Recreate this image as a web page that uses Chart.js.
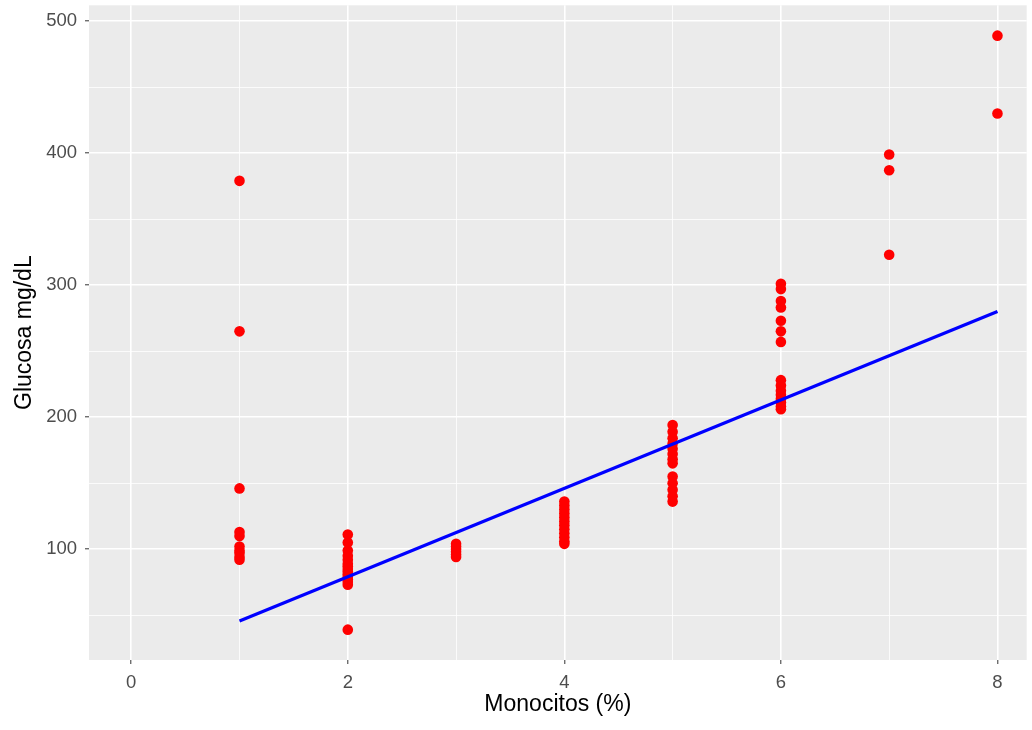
<!DOCTYPE html>
<html>
<head>
<meta charset="utf-8">
<script src="https://cdn.jsdelivr.net/npm/chart.js@4"></script>
<style>
  html, body { margin: 0; padding: 0; background: #ffffff; }
  #wrap { width: 1032px; height: 730px; }
</style>
</head>
<body>
<div id="wrap"><canvas id="scatterChart"></canvas></div>
<script>
// Monocitos (%) per group and the glucose readings of each group
const monocitos = [1, 2, 3, 4, 5, 6, 7, 8];
const glucosa = [
    [379, 265, 146, 113, 110, 102, 99, 97, 94, 92],
    [111, 105, 99, 95, 92, 89, 87, 85, 83, 81, 79, 77, 75, 73, 39],
    [104, 102, 100, 98, 96, 94],
    [136, 133, 130, 127, 124, 121, 118, 115, 112, 109, 106, 104],
    [194, 189, 184, 180, 176, 172, 168, 165, 155, 150, 145, 140, 136],
    [301, 297, 288, 283, 273, 265, 257, 228, 224, 220, 217, 214, 211, 208, 206],
    [399, 387, 323],
    [489, 430]
];

// linear fit (lm) endpoints
const fitX = [1, 8];
const fitY = [45.5, 280];

// axis ticks
const xTicks = [0, 2, 4, 6, 8];
const xMinor = [1, 3, 5, 7];
const yTicks = [100, 200, 300, 400, 500];
const yMinor = [50, 150, 250, 350, 450];

const colors = {
    panel: '#EBEBEB',
    grid: '#FFFFFF',
    point: '#FF0000',
    fit: '#0000FF',
    tickText: '#4D4D4D',
    tickMark: '#333333',
    title: '#000000'
};

const fontFamily = "'Liberation Sans', Arial, sans-serif";

const points = [];
monocitos.forEach((m, i) => {
    glucosa[i].forEach(g => points.push({ x: m, y: g }));
});
const fitLine = fitX.map((x, i) => ({ x: x, y: fitY[i] }));

// grey panel behind the grid
const panelBackground = {
    id: 'panelBackground',
    beforeDraw(chart) {
        const { ctx, chartArea: a } = chart;
        ctx.save();
        ctx.fillStyle = colors.panel;
        ctx.fillRect(a.left, a.top, a.right - a.left, a.bottom - a.top);
        ctx.restore();
    }
};

function isMajor(list, v) {
    return list.indexOf(v) !== -1;
}

const ctx = document.getElementById('scatterChart').getContext('2d');
new Chart(ctx, {
    type: 'scatter',
    data: {
        datasets: [{
            label: 'fit',
            data: fitLine,
            showLine: true,
            borderColor: colors.fit,
            borderWidth: 3.2,
            pointRadius: 0,
            order: 1
        }, {
            label: 'Glucosa',
            data: points,
            backgroundColor: colors.point,
            borderWidth: 0,
            pointRadius: 5.3,
            order: 2
        }]
    },
    options: {
        responsive: true,
        maintainAspectRatio: false,
        animation: false,
        layout: { padding: { top: 5, right: 0, left: 0, bottom: 0 } },
        plugins: {
            legend: { display: false },
            tooltip: { enabled: false }
        },
        scales: {
            x: {
                type: 'linear',
                min: -0.39,
                max: 8.27,
                afterBuildTicks: s => { s.ticks = xTicks.concat(xMinor).sort((a, b) => a - b).map(v => ({ value: v })); },
                afterFit: s => { s.height = 70; s.paddingLeft = 0; s.paddingRight = 0; },
                border: { display: false },
                grid: {
                    color: colors.grid,
                    lineWidth: c => isMajor(xTicks, c.tick.value) ? 1.6 : 0.8,
                    tickColor: c => isMajor(xTicks, c.tick.value) ? colors.tickMark : 'rgba(0,0,0,0)',
                    tickLength: 4,
                    tickWidth: 1
                },
                ticks: {
                    padding: 8,
                    color: colors.tickText,
                    font: { family: fontFamily, size: 18.5 },
                    maxRotation: 0,
                    autoSkip: false,
                    callback: v => isMajor(xTicks, v) ? String(v) : ''
                },
                title: {
                    display: true,
                    text: 'Monocitos (%)',
                    color: colors.title,
                    font: { family: fontFamily, size: 23 },
                    padding: { top: 0, bottom: 12 }
                }
            },
            y: {
                type: 'linear',
                min: 16,
                max: 512,
                afterBuildTicks: s => { s.ticks = yMinor.concat(yTicks).sort((a, b) => a - b).map(v => ({ value: v })); },
                afterFit: s => { s.width = 89; s.paddingTop = 0; s.paddingBottom = 0; },
                border: { display: false },
                grid: {
                    color: colors.grid,
                    lineWidth: c => isMajor(yTicks, c.tick.value) ? 1.6 : 0.8,
                    tickColor: c => isMajor(yTicks, c.tick.value) ? colors.tickMark : 'rgba(0,0,0,0)',
                    tickLength: 4,
                    tickWidth: 1
                },
                ticks: {
                    padding: 8,
                    color: colors.tickText,
                    font: { family: fontFamily, size: 18.5 },
                    autoSkip: false,
                    callback: v => isMajor(yTicks, v) ? String(v) : ''
                },
                title: {
                    display: true,
                    text: 'Glucosa mg/dL',
                    color: colors.title,
                    font: { family: fontFamily, size: 23 },
                    padding: { top: 11, bottom: 0 }
                }
            }
        }
    },
    plugins: [panelBackground]
});
</script>
</body>
</html>
